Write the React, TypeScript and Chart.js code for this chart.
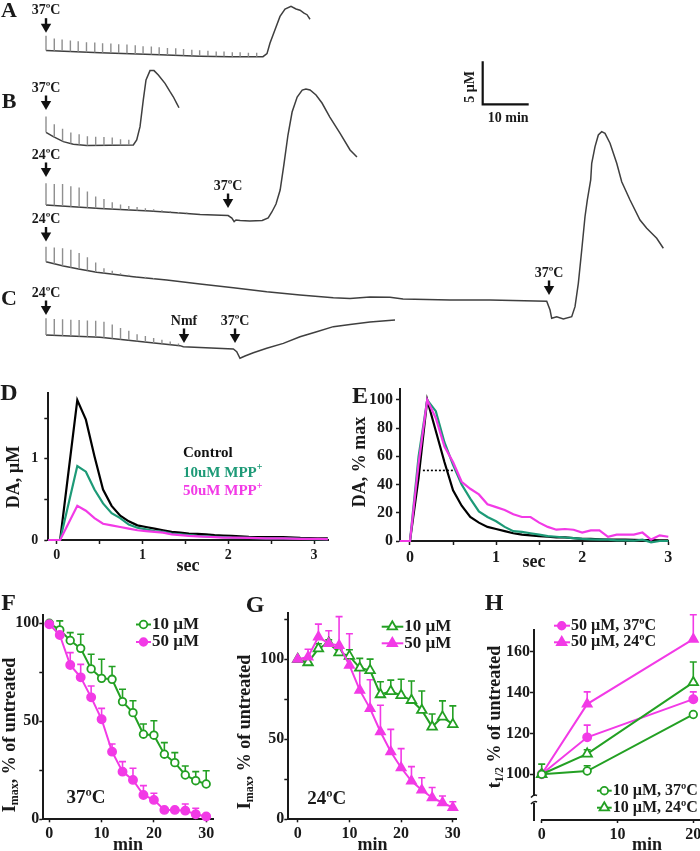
import React, { useEffect, useRef } from "react";
import { Chart, registerables } from "chart.js";

Chart.register(...registerables);

const FONT = '"Liberation Serif", "DejaVu Serif", serif';
const INK = "#1a1a1a";
const GREEN_D = "#1d9a77";
const GREEN = "#23a023";
const MAGENTA = "#f23ae6";
const TRACE = "#3f3f3f";
const SPIKE = "#8f8f8f";
const PAGE_H = 851;

// ===== Panels A–C: amperometric traces (x: min after start, y: µM relative to trace start) =====
const traceA_t = [0, 11.74, 24.78, 33.48, 40.0, 47.17, 48.04, 48.7, 49.78, 50.87, 51.96, 53.26, 54.35, 55.22, 56.09, 56.74, 57.39];
const traceA_v = [0, -0.27, -0.5, -0.67, -0.73, -0.73, -0.38, 0.86, 2.41, 3.95, 4.81, 5.12, 4.81, 4.67, 4.33, 4.15, 3.62];
const traceA_spikeT = [0, 1.8, 3.5, 5.3, 7.0, 8.8, 10.6, 12.3, 14.1, 15.8, 17.6, 19.4, 21.1, 22.9, 24.6, 26.4, 28.2, 29.9, 31.7, 33.4, 35.2, 37.0, 38.7, 40.5, 42.2, 44.0, 45.8];
const traceA_spikeH = [1.71, 1.43, 1.34, 1.28, 1.22, 1.16, 1.16, 1.1, 1.1, 1.05, 1.05, 0.99, 0.93, 0.93, 0.87, 0.81, 0.81, 0.76, 0.7, 0.7, 0.64, 0.58, 0.58, 0.52, 0.52, 0.47, 0.47];

const traceB1_t = [0, 1.59, 3.76, 5.93, 8.85, 18.98, 19.72, 20.44, 21.15, 21.74, 22.61, 23.48, 24.42, 25.87, 26.96, 27.67, 28.41, 28.91];
const traceB1_v = [0, -0.51, -1.09, -1.39, -1.55, -1.48, -0.9, 0.65, 3.76, 6.08, 7.17, 7.17, 6.66, 5.69, 4.72, 4.13, 3.36, 2.85];
const traceB1_spikeT = [0, 1.8, 3.6, 5.4, 7.2, 9.0, 10.8, 12.6, 14.4, 16.2, 18.0];
const traceB1_spikeH = [1.83, 1.51, 1.45, 1.28, 1.22, 1.08, 1.01, 0.97, 0.9, 0.7, 0.62];

const traceB2_t = [0, 11.74, 22.6, 29.1, 33.5, 39.6, 40.4, 40.9, 41.3, 42.2, 44.3, 47.0, 48.3, 49.1, 50.0, 50.9, 51.7, 52.6, 53.5, 54.6, 55.7, 56.5, 57.4, 58.7, 60.0, 61.7, 63.9, 66.1, 67.6];
const traceB2_v = [0, -0.41, -0.7, -0.93, -1.1, -1.22, -1.51, -1.92, -1.74, -1.8, -1.86, -1.8, -1.51, -0.81, 0.12, 1.74, 4.65, 8.14, 10.81, 12.56, 13.37, 13.49, 13.37, 12.79, 11.86, 10.23, 8.37, 6.4, 5.58];
const traceB2_spikeT = [0, 1.8, 3.6, 5.4, 7.2, 9.0, 10.8, 12.6, 14.4, 16.2, 18.0, 19.8, 21.6, 23.4, 25.2, 27.0, 28.8, 30.6];
const traceB2_spikeH = [2.52, 2.52, 2.58, 2.36, 2.3, 1.9, 1.37, 1.13, 0.81, 0.58, 0.47, 0.39, 0.31, 0.23, 0.19, 0.16, 0.12, 0.12];

const traceB3_t = [0, 3.76, 7.39, 11.02, 14.63, 18.98, 26.24, 33.48, 40.72, 47.98, 55.22, 62.46, 66.09, 70.43, 74.78, 77.61, 87.83, 96.52, 108.85, 109.57, 109.93, 111.02, 112.46, 114.28, 115.0, 115.72, 116.46, 117.17, 117.67, 118.41, 118.63, 119.35, 120.07, 120.8, 121.52, 122.61, 124.07, 125.15, 126.96, 129.13, 130.59, 132.76, 134.2];
const traceB3_v = [0, -0.5, -0.88, -1.23, -1.47, -1.74, -2.13, -2.59, -3.02, -3.49, -3.87, -4.19, -4.28, -4.1, -4.14, -4.34, -4.45, -4.45, -4.6, -5.62, -6.58, -6.4, -6.66, -6.4, -5.23, -2.51, 1.36, 5.23, 7.17, 9.5, 11.44, 13.38, 14.74, 15.12, 14.93, 13.77, 11.44, 9.3, 7.17, 4.85, 3.88, 2.72, 1.56];
const traceB3_spikeT = [0, 1.8, 3.6, 5.4, 7.2, 9.0, 10.8, 12.6, 14.4, 16.2, 18.0, 19.8, 21.6, 23.4];
const traceB3_spikeH = [1.74, 1.9, 2.05, 2.05, 1.86, 1.55, 1.12, 0.58, 0.39, 0.23, 0.16, 0.12, 0.12, 0.08];

const traceC_t = [0, 11.74, 29.13, 29.85, 40.72, 41.46, 42.17, 43.26, 45.07, 47.98, 51.59, 55.22, 58.85, 62.46, 66.09, 70.43, 75.87];
const traceC_v = [0, -0.27, -1.24, -1.36, -1.63, -1.94, -2.71, -2.44, -2.06, -1.55, -0.98, -0.2, 0.38, 0.97, 1.22, 1.51, 1.74];
const traceC_spikeT = [0, 1.8, 3.6, 5.4, 7.2, 9.0, 10.8, 12.6, 14.4, 16.2, 18.0, 19.8, 21.6, 23.4, 25.2, 27.0, 28.8];
const traceC_spikeH = [1.94, 1.9, 1.9, 1.9, 1.9, 1.9, 1.9, 1.86, 1.63, 1.32, 1.12, 0.81, 0.7, 0.58, 0.47, 0.35, 0.23];

// vertical display offsets (µM) stacking the traces
const traceOffsets = [36.0, 26.48, 18.02, 11.43, 2.91];

// arrow annotations (time, stacked µM at arrow tip)
const annLabels = ["37ºC", "37ºC", "24ºC", "37ºC", "24ºC", "37ºC", "24ºC", "Nmf", "37ºC"];
const annT = [0, 0, 0, 39.57, 0, 109.35, 0, 30.0, 41.09];
const annV = [38.06, 29.07, 21.28, 17.67, 13.78, 7.56, 5.23, 1.98, 1.98];

// scale bar (origin, lengths)
const scaleBarT = 94.93;
const scaleBarV = 29.73;
const scaleBarMin = 10;
const scaleBarUM = 5;

// ===== Panel D =====
const dTimes = [-0.1, 0.04, 0.24, 0.34, 0.44, 0.54, 0.64, 0.74, 0.84, 0.94, 1.04, 1.14, 1.24, 1.34, 1.44, 1.54, 1.64, 1.74, 1.84, 1.94, 2.04, 2.24, 2.44, 2.64, 2.84, 3.04, 3.16];
const dControl = [0, 0, 1.72, 1.48, 1.03, 0.62, 0.42, 0.3, 0.23, 0.18, 0.16, 0.14, 0.12, 0.1, 0.09, 0.08, 0.075, 0.07, 0.06, 0.055, 0.05, 0.04, 0.035, 0.035, 0.025, 0.02, 0.02];
const dMpp10 = [0, 0, 0.91, 0.84, 0.62, 0.45, 0.33, 0.27, 0.19, 0.15, 0.13, 0.11, 0.1, 0.08, 0.07, 0.06, 0.05, 0.045, 0.04, 0.035, 0.03, 0.025, 0.02, 0.02, 0.015, 0.01, 0.01];
const dMpp50 = [0, 0, 0.42, 0.36, 0.27, 0.2, 0.18, 0.16, 0.14, 0.12, 0.11, 0.1, 0.09, 0.07, 0.06, 0.05, 0.045, 0.04, 0.035, 0.03, 0.03, 0.025, 0.02, 0.02, 0.015, 0.015, 0.01];
const dLegend = ["Control", "10uM MPP", "50uM MPP"];

// ===== Panel E =====
const eTimes = [-0.12, 0, 0.1, 0.2, 0.3, 0.4, 0.5, 0.6, 0.7, 0.8, 0.9, 1.0, 1.1, 1.2, 1.3, 1.4, 1.5, 1.6, 1.7, 1.8, 1.9, 2.0, 2.1, 2.2, 2.3, 2.4, 2.5, 2.6, 2.7, 2.8, 2.9, 3.0];
const eControl = [0, 0, 45, 100, 78, 56, 36, 25, 17, 13, 10, 8.5, 7, 5.5, 4.5, 4, 3.5, 3, 2.5, 2.5, 2, 1.5, 1.5, 1.2, 1, 1, 1, 0.8, 0.7, 0.6, 0.5, 0.5];
const eMpp10 = [0, 0, 60, 100, 92, 70, 54, 40, 30, 21, 17, 14, 10, 7, 6.5, 5.5, 4.5, 3.5, 3, 2.5, 2, 1.5, 1.2, 1, 1, 0.5, 0.5, 0.2, 1, -1, 0, 0];
const eMpp50 = [0, 0, 55, 100, 87, 67, 56, 42, 37, 33, 26, 24, 22, 19, 17, 17, 13, 10, 8, 8.5, 8, 6, 7.5, 7.5, 3, 4.5, 4.5, 4.5, 6, 1, 4, 3];
const eHalfT = [0.15, 0.52];
const eHalfV = 50;

// ===== Panel F (37ºC) =====
const fTimes = [0, 2, 4, 6, 8, 10, 12, 14, 16, 18, 20, 22, 24, 26, 28, 30];
const f10 = [100, 96.6, 91.2, 87.2, 76.7, 71.9, 71.4, 60.0, 54.4, 43.4, 42.9, 33.2, 28.9, 22.6, 19.7, 18.0];
const f10Err = [0, 4.6, 4.0, 7.2, 7.5, 9.7, 6.5, 6.3, 6.1, 5.2, 7.4, 5.9, 5.1, 4.6, 4.6, 6.8];
const f50 = [99.5, 94.0, 78.7, 72.4, 62.2, 51.0, 34.5, 24.3, 20.1, 12.4, 9.9, 4.8, 4.8, 4.4, 2.6, 1.4];
const f50Err = [0, 3, 6.3, 6.6, 5.8, 5.6, 3.9, 5.1, 5.9, 4.8, 3.4, 1, 1, 3.4, 3, 0.5];

// ===== Panel G (24ºC) =====
const gTimes = [0, 2, 4, 6, 8, 10, 12, 14, 16, 18, 20, 22, 24, 26, 28, 30];
const g10 = [100, 98, 106.7, 110.2, 104.2, 102, 94.6, 93.1, 78, 80, 77.5, 74.4, 68.2, 57.8, 64, 59.3];
const g10Err = [0, 2, 3, 2, 2, 4, 6, 7, 8, 7, 10, 12, 12, 8, 10, 11.6];
const g50 = [100, 101.5, 114, 109.8, 108.7, 96.3, 80.7, 69.2, 54.7, 42.2, 32.2, 23.9, 18.3, 13.5, 10.4, 7.3];
const g50Err = [0, 4.8, 8, 8, 18, 19.7, 13, 18, 16.6, 14, 12, 9, 7.7, 6.4, 4.2, 3.7];

// ===== Panel H =====
const hTimes = [0, 6, 20];
const h50at37 = [100, 118.1, 136.8];
const h50at37Err = [0, 6, 3.6];
const h50at24 = [100, 134.4, 166.2];
const h50at24Err = [0, 6, 12];
const h10at37 = [100, 101.6, 129.3];
const h10at37Err = [5, 2.6, 0];
const h10at24 = [100, 110, 145];
const h10at24Err = [0, 2, 10];

// ---------- helpers ----------
type Part = { t: string; s: number; dy?: number; c?: string };
function txt(ctx: CanvasRenderingContext2D, parts: Part[] | string, x: number, y: number, o: { size?: number; color?: string; align?: "left" | "center"; rot?: number } = {}) {
  const ps: Part[] = typeof parts === "string" ? [{ t: parts, s: o.size ?? 16 }] : parts;
  ctx.save();
  ctx.translate(x, y);
  if (o.rot) ctx.rotate(o.rot);
  ctx.textBaseline = "middle";
  ctx.textAlign = "left";
  let total = 0;
  const ws = ps.map((p) => {
    ctx.font = `bold ${p.s}px ${FONT}`;
    const w = ctx.measureText(p.t).width;
    total += w;
    return w;
  });
  let cx = (o.align ?? "center") === "center" ? -total / 2 : 0;
  ps.forEach((p, i) => {
    ctx.font = `bold ${p.s}px ${FONT}`;
    ctx.fillStyle = p.c ?? o.color ?? INK;
    ctx.fillText(p.t, cx, p.dy ?? 0);
    cx += ws[i];
  });
  ctx.restore();
}

function marker(ctx: CanvasRenderingContext2D, shape: string, x: number, y: number, color: string, filled: boolean, r: number) {
  ctx.save();
  ctx.lineWidth = 1.8;
  ctx.strokeStyle = color;
  ctx.fillStyle = filled ? color : "#fff";
  ctx.beginPath();
  if (shape === "circle") ctx.arc(x, y, r, 0, Math.PI * 2);
  else {
    ctx.moveTo(x, y - r);
    ctx.lineTo(x + r * 0.866, y + r / 2);
    ctx.lineTo(x - r * 0.866, y + r / 2);
    ctx.closePath();
  }
  ctx.fill();
  ctx.stroke();
  ctx.restore();
}

function legendRow(ctx: CanvasRenderingContext2D, x0: number, x1: number, xm: number, y: number, shape: string, color: string, filled: boolean, label: string, size: number) {
  ctx.save();
  ctx.strokeStyle = color;
  ctx.lineWidth = 2;
  ctx.beginPath();
  ctx.moveTo(x0, y);
  ctx.lineTo(x1, y);
  ctx.stroke();
  ctx.restore();
  marker(ctx, shape, xm, y, color, filled, shape === "circle" ? 3.8 : 5.5);
  txt(ctx, label, x1 + 1, y, { size, align: "left" });
}

function lerp(ts: number[], vs: number[], t: number) {
  for (let i = 1; i < ts.length; i++) {
    if (t <= ts[i]) {
      const f = (t - ts[i - 1]) / (ts[i] - ts[i - 1]);
      return vs[i - 1] + f * (vs[i] - vs[i - 1]);
    }
  }
  return vs[vs.length - 1];
}

function tracePoints(ts: number[], vs: number[], off: number) {
  return ts.map((t, i) => ({ x: t, y: off + vs[i] }));
}

function spikePoints(ts: number[], vs: number[], off: number, st: number[], sh: number[]) {
  const pts: any[] = [];
  st.forEach((t, i) => {
    const b = off + lerp(ts, vs, t);
    pts.push({ x: t, y: b }, { x: t, y: b + sh[i] }, { x: t, y: null });
  });
  return pts;
}

function series(xs: number[], ys: number[], color: string, extra: any = {}) {
  return {
    data: xs.map((x, i) => ({ x, y: ys[i] })),
    borderColor: color,
    backgroundColor: color,
    borderWidth: 2,
    pointRadius: 0,
    fill: false,
    clip: false,
    ...extra,
  };
}

function axis(o: { min: number; max: number; ticks: number[]; show: number[]; size: number; tick: number; pad: number; fit: number; horiz: boolean; border?: boolean }) {
  return {
    type: "linear",
    min: o.min,
    max: o.max,
    afterBuildTicks: (s: any) => {
      s.ticks = o.ticks.map((value) => ({ value }));
    },
    afterFit: (s: any) => {
      if (o.horiz) s.height = o.fit;
      else s.width = o.fit;
      s.paddingLeft = 0;
      s.paddingRight = 0;
      s.paddingTop = 0;
      s.paddingBottom = 0;
    },
    grid: { display: true, drawOnChartArea: false, drawTicks: true, tickLength: o.tick, tickColor: INK, tickWidth: 1.5 },
    border: { display: o.border !== false, color: INK, width: 2 },
    ticks: {
      autoSkip: false,
      maxRotation: 0,
      minRotation: 0,
      padding: o.pad,
      color: INK,
      font: { family: FONT, size: o.size, weight: "bold" },
      callback: (v: number) => (o.show.some((s) => Math.abs(s - v) < 1e-9) ? String(v) : ""),
    },
  };
}

const errorBars = {
  id: "errorBars",
  beforeDatasetsDraw(chart: any) {
    const ctx = chart.ctx;
    const ys = chart.scales.y;
    chart.data.datasets.forEach((ds: any, i: number) => {
      if (!ds.errs) return;
      const meta = chart.getDatasetMeta(i);
      ctx.save();
      ctx.strokeStyle = ds.borderColor;
      ctx.lineWidth = 1.6;
      meta.data.forEach((el: any, j: number) => {
        const e = ds.errs[j];
        if (!e) return;
        const yTop = ys.getPixelForValue(ds.data[j].y + e);
        ctx.beginPath();
        ctx.moveTo(el.x, el.y);
        ctx.lineTo(el.x, yTop);
        ctx.moveTo(el.x - 3.5, yTop);
        ctx.lineTo(el.x + 3.5, yTop);
        ctx.stroke();
      });
      ctx.restore();
    });
  },
};

type Area = { l: number; t: number; r: number; b: number };
function panel(cw: number, area: Area, yW: number, xH: number, scales: any, datasets: any[], draw: (c: any) => void) {
  return {
    type: "line",
    data: { datasets },
    options: {
      responsive: false,
      maintainAspectRatio: false,
      animation: false,
      devicePixelRatio: 1,
      events: [],
      layout: { padding: { left: area.l - yW, top: area.t, right: cw - area.r, bottom: PAGE_H - area.b - xH } },
      plugins: { legend: { display: false }, tooltip: { enabled: false }, title: { display: false } },
      elements: { line: { tension: 0 } },
      scales,
    },
    plugins: [errorBars, { id: "deco", afterDraw: (c: any) => draw(c) }],
  };
}

const UP = -Math.PI / 2;

// ---------- chart configs ----------
function tracesConfig() {
  const traces = [
    [traceA_t, traceA_v, traceA_spikeT, traceA_spikeH],
    [traceB1_t, traceB1_v, traceB1_spikeT, traceB1_spikeH],
    [traceB2_t, traceB2_v, traceB2_spikeT, traceB2_spikeH],
    [traceB3_t, traceB3_v, traceB3_spikeT, traceB3_spikeH],
    [traceC_t, traceC_v, traceC_spikeT, traceC_spikeH],
  ];
  const datasets: any[] = [];
  traces.forEach((tr, k) => {
    datasets.push({ data: spikePoints(tr[0], tr[1], traceOffsets[k], tr[2], tr[3]), borderColor: SPIKE, borderWidth: 1.4, pointRadius: 0, spanGaps: false, clip: false });
    datasets.push({ data: tracePoints(tr[0], tr[1], traceOffsets[k]), borderColor: TRACE, borderWidth: 1.5, pointRadius: 0, clip: false });
  });
  const scales = {
    x: { type: "linear", display: false, min: -10, max: 142.17 },
    y: { type: "linear", display: false, min: 0, max: 41.86 },
  };
  return panel(700, { l: 0, t: 0, r: 700, b: 360 }, 0, 0, scales, datasets, (c) => {
    const ctx: CanvasRenderingContext2D = c.ctx;
    const xs = c.scales.x;
    const ys = c.scales.y;
    txt(ctx, "A", 9, 11.7, { size: 22 });
    txt(ctx, "B", 9, 102.5, { size: 22 });
    txt(ctx, "C", 9, 299, { size: 22 });
    annLabels.forEach((lab, i) => {
      const x = xs.getPixelForValue(annT[i]);
      const tip = ys.getPixelForValue(annV[i]);
      ctx.save();
      ctx.fillStyle = "#111";
      ctx.fillRect(x - 1.2, tip - 14.5, 2.4, 6);
      ctx.beginPath();
      ctx.moveTo(x - 5.2, tip - 9);
      ctx.lineTo(x + 5.2, tip - 9);
      ctx.lineTo(x, tip);
      ctx.closePath();
      ctx.fill();
      ctx.restore();
      txt(ctx, lab, x, tip - 22, { size: 14 });
    });
    const x0 = xs.getPixelForValue(scaleBarT);
    const x1 = xs.getPixelForValue(scaleBarT + scaleBarMin);
    const y0 = ys.getPixelForValue(scaleBarV);
    const y1 = ys.getPixelForValue(scaleBarV + scaleBarUM);
    ctx.save();
    ctx.strokeStyle = "#111";
    ctx.lineWidth = 2.2;
    ctx.beginPath();
    ctx.moveTo(x0, y1);
    ctx.lineTo(x0, y0);
    ctx.lineTo(x1, y0);
    ctx.stroke();
    ctx.restore();
    txt(ctx, `${scaleBarUM} µM`, x0 - 12.5, (y0 + y1) / 2 + 4, { size: 14, rot: UP });
    txt(ctx, `${scaleBarMin} min`, (x0 + x1) / 2 + 2.5, y0 + 14, { size: 14 });
  });
}

function dConfig() {
  const area = { l: 48.3, t: 393, r: 328, b: 540 };
  const scales = {
    x: axis({ min: -0.098, max: 3.162, ticks: [0, 0.5, 1, 1.5, 2, 2.5, 3], show: [0, 1, 2, 3], size: 14, tick: 4, pad: 3, fit: 30, horiz: true }),
    y: axis({ min: 0, max: 1.808, ticks: [0, 0.5, 1, 1.5], show: [0, 1], size: 14, tick: 4, pad: 6, fit: 40, horiz: false }),
  };
  const datasets = [
    series(dTimes, dMpp50, MAGENTA, { borderWidth: 2.2 }),
    series(dTimes, dMpp10, GREEN_D, { borderWidth: 2.2 }),
    series(dTimes, dControl, "#000", { borderWidth: 2.2 }),
  ];
  return panel(700, area, 40, 30, scales, datasets, (c) => {
    const ctx = c.ctx;
    txt(ctx, "D", 9, 394, { size: 24 });
    txt(ctx, "DA, µM", 14.5, 477, { size: 18, rot: UP });
    txt(ctx, "sec", 188, 566, { size: 18 });
    txt(ctx, dLegend[0], 183, 453, { size: 15, align: "left", color: "#111" });
    txt(ctx, [{ t: dLegend[1], s: 15 }, { t: "+", s: 10, dy: -5 }], 183, 472.7, { align: "left", color: GREEN_D });
    txt(ctx, [{ t: dLegend[2], s: 15 }, { t: "+", s: 10, dy: -5 }], 183, 491, { align: "left", color: MAGENTA });
  });
}

function eConfig() {
  const area = { l: 400, t: 389.3, r: 668.3, b: 541 };
  const scales = {
    x: axis({ min: -0.116, max: 3.0, ticks: [0, 0.5, 1, 1.5, 2, 2.5, 3], show: [0, 1, 2, 3], size: 16, tick: 4, pad: 3, fit: 30, horiz: true }),
    y: axis({ min: 0, max: 107.5, ticks: [0, 20, 40, 60, 80, 100], show: [0, 20, 40, 60, 80, 100], size: 16, tick: 4, pad: 3, fit: 40, horiz: false }),
  };
  const datasets = [
    series(eHalfT, eHalfT.map(() => eHalfV), "#000", { borderWidth: 1.6, borderDash: [2, 2] }),
    series(eTimes, eMpp50, MAGENTA, { borderWidth: 2.2 }),
    series(eTimes, eMpp10, GREEN_D, { borderWidth: 2.2 }),
    series(eTimes, eControl, "#000", { borderWidth: 2.2 }),
  ];
  return panel(700, area, 40, 30, scales, datasets, (c) => {
    const ctx = c.ctx;
    txt(ctx, "E", 360, 396.5, { size: 24 });
    txt(ctx, "DA, % max", 360, 462, { size: 18, rot: UP });
    txt(ctx, "sec", 534, 562.5, { size: 18 });
  });
}

function fConfig() {
  const area = { l: 43.3, t: 615, r: 213.3, b: 819.3 };
  const scales = {
    x: axis({ min: -1.15, max: 31.36, ticks: [0, 10, 20, 30], show: [0, 10, 20, 30], size: 16, tick: 3, pad: 2, fit: 28, horiz: true }),
    y: axis({ min: 0, max: 104.2, ticks: [0, 25, 50, 75, 100], show: [0, 50, 100], size: 16, tick: 4, pad: 0, fit: 40, horiz: false }),
  };
  const datasets = [
    series(fTimes, f50, MAGENTA, { pointRadius: 4.2, pointStyle: "circle", pointBackgroundColor: MAGENTA, pointBorderColor: MAGENTA, pointBorderWidth: 1.5, errs: f50Err }),
    series(fTimes, f10, GREEN, { pointRadius: 3.8, pointStyle: "circle", pointBackgroundColor: "#fff", pointBorderColor: GREEN, pointBorderWidth: 1.8, errs: f10Err }),
  ];
  return panel(700, area, 40, 28, scales, datasets, (c) => {
    const ctx = c.ctx;
    txt(ctx, "F", 8.5, 603.5, { size: 24 });
    txt(ctx, [{ t: "I", s: 18 }, { t: "max", s: 12, dy: 5 }, { t: ", % of untreated", s: 18 }], 10, 735, { rot: UP });
    txt(ctx, "min", 128, 845, { size: 18 });
    txt(ctx, "37ºC", 86, 798.5, { size: 19 });
    legendRow(ctx, 136, 151, 143.5, 624.5, "circle", GREEN, false, "10 µM", 17);
    legendRow(ctx, 136, 151, 143.5, 642, "circle", MAGENTA, true, "50 µM", 17);
  });
}

function gConfig() {
  const area = { l: 288.3, t: 613.3, r: 456.7, b: 819.3 };
  const scales = {
    x: axis({ min: -1.82, max: 30.75, ticks: [0, 10, 20, 30], show: [0, 10, 20, 30], size: 16, tick: 3, pad: 2, fit: 28, horiz: true }),
    y: axis({ min: 0, max: 128.75, ticks: [0, 25, 50, 75, 100, 125], show: [0, 50, 100], size: 16, tick: 4, pad: 0, fit: 40, horiz: false }),
  };
  const datasets = [
    series(gTimes, g50, MAGENTA, { pointRadius: 5.5, pointStyle: "triangle", pointBackgroundColor: MAGENTA, pointBorderColor: MAGENTA, pointBorderWidth: 1.5, errs: g50Err }),
    series(gTimes, g10, GREEN, { pointRadius: 5.5, pointStyle: "triangle", pointBackgroundColor: "#fff", pointBorderColor: GREEN, pointBorderWidth: 1.8, errs: g10Err }),
  ];
  return panel(700, area, 40, 28, scales, datasets, (c) => {
    const ctx = c.ctx;
    txt(ctx, "G", 255, 605.7, { size: 24 });
    txt(ctx, [{ t: "I", s: 18 }, { t: "max", s: 12, dy: 5 }, { t: ", % of untreated", s: 18 }], 245, 732, { rot: UP });
    txt(ctx, "min", 372.5, 845, { size: 18 });
    txt(ctx, "24ºC", 326.7, 799, { size: 19 });
    legendRow(ctx, 381.7, 403.3, 392.3, 626.7, "triangle", GREEN, false, "10 µM", 17);
    legendRow(ctx, 381.7, 403.3, 392.3, 643.3, "triangle", MAGENTA, true, "50 µM", 17);
  });
}

function hConfig() {
  const area = { l: 534, t: 630, r: 760, b: 820 };
  const scales = {
    x: axis({ min: -1.016, max: 28.8, ticks: [0, 10, 20], show: [0, 10, 20], size: 16, tick: 3, pad: 2, fit: 28, horiz: true, border: false }),
    y: axis({ min: 77.6, max: 170.7, ticks: [100, 120, 140, 160], show: [100, 120, 140, 160], size: 16, tick: 4, pad: 0, fit: 40, horiz: false }),
  };
  const datasets = [
    series(hTimes, h10at37, GREEN, { pointRadius: 3.8, pointStyle: "circle", pointBackgroundColor: "#fff", pointBorderColor: GREEN, pointBorderWidth: 1.8, errs: h10at37Err }),
    series(hTimes, h10at24, GREEN, { pointRadius: 5.5, pointStyle: "triangle", pointBackgroundColor: "#fff", pointBorderColor: GREEN, pointBorderWidth: 1.8, errs: h10at24Err }),
    series(hTimes, h50at37, MAGENTA, { pointRadius: 4.2, pointStyle: "circle", pointBackgroundColor: MAGENTA, pointBorderColor: MAGENTA, pointBorderWidth: 1.5, errs: h50at37Err }),
    series(hTimes, h50at24, MAGENTA, { pointRadius: 5.5, pointStyle: "triangle", pointBackgroundColor: MAGENTA, pointBorderColor: MAGENTA, pointBorderWidth: 1.5, errs: h50at24Err }),
  ];
  return panel(800, area, 40, 28, scales, datasets, (c) => {
    const ctx: CanvasRenderingContext2D = c.ctx;
    const ca = c.chartArea;
    // x axis line (starts right of the broken y axis)
    ctx.save();
    ctx.strokeStyle = INK;
    ctx.lineWidth = 2;
    ctx.beginPath();
    ctx.moveTo(541, ca.bottom);
    ctx.lineTo(800, ca.bottom);
    ctx.stroke();
    // axis break
    ctx.fillStyle = "#fff";
    ctx.fillRect(ca.left - 3, 796, 6, 7);
    ctx.lineWidth = 1.6;
    ctx.beginPath();
    ctx.moveTo(ca.left - 3, 797.5);
    ctx.quadraticCurveTo(ca.left, 794, ca.left + 3, 795.5);
    ctx.moveTo(ca.left - 3, 804);
    ctx.quadraticCurveTo(ca.left, 800.5, ca.left + 3, 802);
    ctx.stroke();
    ctx.restore();
    txt(ctx, "H", 494, 603.5, { size: 24 });
    txt(ctx, [{ t: "t", s: 18 }, { t: "1/2", s: 12, dy: 5 }, { t: " % of untreated", s: 18 }], 495, 717, { rot: UP });
    txt(ctx, "min", 647, 845, { size: 18 });
    legendRow(ctx, 554, 570, 561.7, 625.7, "circle", MAGENTA, true, "50 µM, 37ºC", 16);
    legendRow(ctx, 554, 570, 561.7, 642.3, "triangle", MAGENTA, true, "50 µM, 24ºC", 16);
    legendRow(ctx, 597, 611.7, 604.3, 790.7, "circle", GREEN, false, "10 µM, 37ºC", 16);
    legendRow(ctx, 597, 611.7, 604.3, 807.7, "triangle", GREEN, false, "10 µM, 24ºC", 16);
  });
}

function ChartCanvas({ width, make }: { width: number; make: () => any }) {
  const ref = useRef<HTMLCanvasElement>(null);
  useEffect(() => {
    const chart = new Chart(ref.current as HTMLCanvasElement, make() as any);
    return () => chart.destroy();
  }, []);
  return <canvas ref={ref} width={width} height={PAGE_H} style={{ position: "absolute", left: 0, top: 0, width, height: PAGE_H }} />;
}

export default function App() {
  useEffect(() => {
    document.body.style.margin = "0";
  }, []);
  return (
    <div style={{ position: "relative", width: 700, height: PAGE_H, overflow: "hidden", background: "#fff" }}>
      <style>{"body{margin:0}"}</style>
      <ChartCanvas width={700} make={tracesConfig} />
      <ChartCanvas width={700} make={dConfig} />
      <ChartCanvas width={700} make={eConfig} />
      <ChartCanvas width={700} make={fConfig} />
      <ChartCanvas width={700} make={gConfig} />
      <ChartCanvas width={800} make={hConfig} />
    </div>
  );
}
